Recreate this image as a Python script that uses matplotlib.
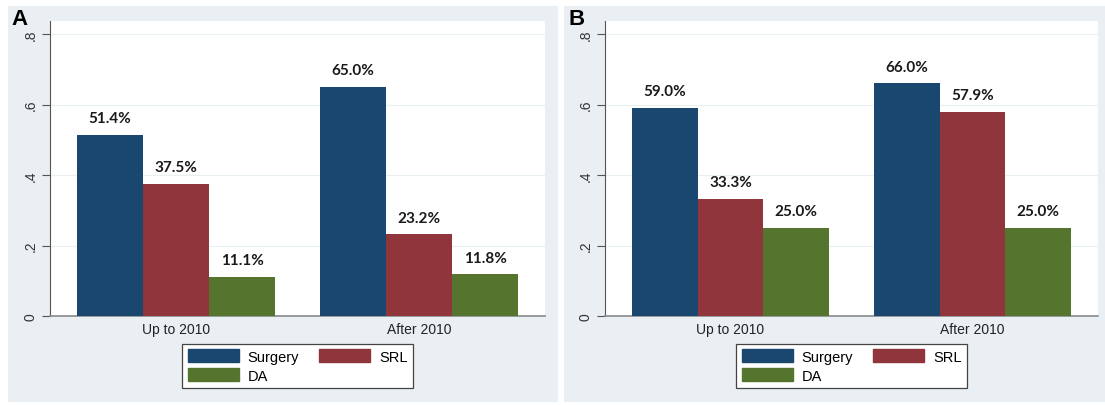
import numpy as np
from matplotlib import pyplot as plt
from matplotlib.patches import Rectangle, Patch

# Groups on the x axis and the three treatments
periods = ['Up to 2010', 'After 2010']
treatments = ['Surgery', 'SRL', 'DA']

# Panel A, share of patients (%)
a_surgery = [51.4, 65.0]
a_srl = [37.5, 23.2]
a_da = [11.1, 11.8]

# Panel B, share of patients (%)
b_surgery = [59.0, 66.0]
b_srl = [33.3, 57.9]
b_da = [25.0, 25.0]

# Stata s2color palette
colors = {'Surgery': '#1a476f', 'SRL': '#90353b', 'DA': '#55752f'}
panel_bg = '#e9eff2'

W, H = 1105, 406


def px_box(left, top, right, bottom):
    # pixel box -> figure fraction [x, y, w, h]
    return [left / W, 1 - bottom / H, (right - left) / W, (bottom - top) / H]


####################################
## One panel of grouped bars
####################################
def drawPanel(fig, box, bg_box, letter, letter_xy, surgery, srl, da):
    # Grey panel behind the plot region
    fig.patches.append(Rectangle((bg_box[0], bg_box[1]), bg_box[2], bg_box[3],
                                 transform=fig.transFigure, facecolor=panel_bg,
                                 edgecolor='none', zorder=-1))

    ax = fig.add_axes(box)
    ax.set_facecolor('white')

    x = np.arange(len(periods))
    width = 0.272
    series = [surgery, srl, da]

    for i, name in enumerate(treatments):
        vals = np.array(series[i]) / 100
        pos = x + (i - 1) * width
        ax.bar(pos, vals, width, color=colors[name], label=name, zorder=3)
        # Percent labels above each bar
        for p, v, txt in zip(pos, vals, series[i]):
            ax.annotate('%.1f%%' % txt, (p, v), xytext=(0, 7),
                        textcoords='offset points', ha='center', va='bottom',
                        fontsize=11, fontweight='bold', family='Lato',
                        color='#1a1a1a', zorder=4)

    ax.set_xlim(-0.519, 1.519)
    ax.set_ylim(0, 0.837)
    ax.set_yticks([0, 0.2, 0.4, 0.6, 0.8])
    ax.set_yticklabels(['0', '.2', '.4', '.6', '.8'], rotation=90, va='center')
    ax.set_xticks(x)
    ax.set_xticklabels(periods)
    ax.tick_params(axis='y', length=6, width=0.8, color='#555555', pad=3,
                   labelsize=10, labelcolor='#333333')
    ax.tick_params(axis='x', length=0, pad=4, labelsize=10, labelcolor='#222222')

    ax.yaxis.grid(True, color='#eaf0f2', linewidth=0.9, zorder=0)
    ax.set_axisbelow(True)

    for s in ['top', 'right']:
        ax.spines[s].set_visible(False)
    ax.spines['left'].set_color('#555555')
    ax.spines['left'].set_linewidth(0.8)
    ax.spines['bottom'].set_color('#8a8a8a')
    ax.spines['bottom'].set_linewidth(1.2)

    # Legend: Surgery and SRL on top row, DA below
    handles = [Patch(color=colors['Surgery']), Patch(color=colors['DA']),
               Patch(color=colors['SRL'])]
    labels = ['Surgery', 'DA', 'SRL']
    cx = (box[0] + box[2] / 2)
    leg = fig.legend(handles, labels, loc='center', ncol=2,
                     bbox_to_anchor=(cx, 1 - 367 / H), bbox_transform=fig.transFigure,
                     fontsize=10.5, handlelength=3.5, handleheight=1.0,
                     handletextpad=0.6, columnspacing=1.4, labelspacing=0.3,
                     borderpad=0.35, fancybox=False, frameon=True, framealpha=1)
    leg.get_frame().set_edgecolor('#444444')
    leg.get_frame().set_linewidth(0.9)
    leg.get_frame().set_facecolor('white')

    fig.text(letter_xy[0] / W, 1 - letter_xy[1] / H, letter, ha='left', va='top',
             fontsize=16, fontweight='bold', family='Liberation Sans')
    return ax


plt.rcParams['font.family'] = ['Liberation Sans', 'DejaVu Sans']

fig = plt.figure(figsize=(W / 100, H / 100), dpi=100)
fig.patch.set_facecolor('white')

drawPanel(fig, px_box(50, 22, 545, 317), px_box(8, 7, 558, 403), 'A', (11, 9),
          a_surgery, a_srl, a_da)
drawPanel(fig, px_box(605, 22, 1098, 317), px_box(564, 7, 1105, 403), 'B', (569, 9),
          b_surgery, b_srl, b_da)

plt.savefig('out.png', dpi=100)
